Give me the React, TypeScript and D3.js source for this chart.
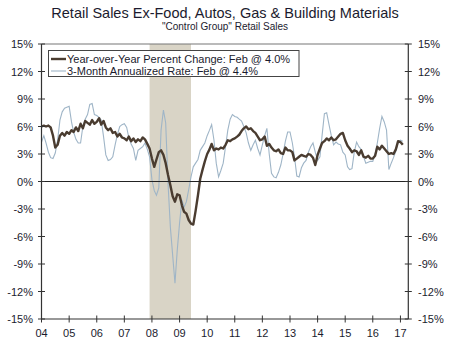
import React from "react";
import * as d3 from "d3";

const title = "Retail Sales Ex-Food, Autos, Gas & Building Materials";
const subtitle = "\"Control Group\" Retail Sales";
const legendYoY = "Year-over-Year Percent Change: Feb @ 4.0%";
const legend3M = "3-Month Annualized Rate: Feb @ 4.4%";

const yTicks = [15, 12, 9, 6, 3, 0, -3, -6, -9, -12, -15];
const xYears = [2004, 2005, 2006, 2007, 2008, 2009, 2010, 2011, 2012, 2013, 2014, 2015, 2016, 2017];

// Monthly, Jan 2004 .. Feb 2017
const yoy = [
  6.0, 6.1, 6.0, 6.1, 5.9, 5.0, 3.7, 4.0, 5.0, 5.3, 5.0, 5.4,
  5.2, 5.6, 5.4, 5.9, 5.5, 6.3, 5.8, 6.6, 6.4, 6.2, 6.7, 6.3,
  6.5, 6.9, 6.2, 6.6, 5.9, 5.6, 5.8, 5.3, 5.4, 4.9, 5.2, 4.8,
  4.7, 4.5, 4.9, 4.4, 4.7, 4.3, 4.6, 4.4, 4.8, 4.6, 4.1, 3.6,
  2.5, 1.6, 2.4, 3.2, 3.4, 2.9, 2.0, 0.7, -0.4, -1.6, -2.2, -1.4,
  -1.5, -2.6, -3.3, -3.5, -4.2, -4.6, -4.7, -3.2, -1.5, 0.3, 1.3, 2.2,
  3.0, 3.5, 4.1, 3.4, 3.6, 3.5, 3.7, 3.6, 4.0, 4.5, 4.4, 4.6,
  4.7, 4.9, 5.1, 5.5, 5.8, 6.0, 5.7, 5.8, 5.5, 5.3, 4.9, 4.5,
  4.6, 4.9, 3.9, 4.1, 3.7, 3.4, 3.3, 3.5, 3.1, 3.0, 3.7, 3.4,
  3.4, 3.2, 2.3, 2.5, 2.7, 2.9, 2.8, 2.7, 3.0, 2.9, 2.6, 1.8,
  2.9, 3.6, 4.2, 4.4, 4.7, 4.5, 4.8, 4.5, 4.6, 4.9, 5.2, 5.3,
  4.5, 3.9, 3.6, 3.2, 3.4, 3.3, 2.9, 3.4, 2.7, 2.6, 2.8, 2.5,
  2.5, 2.8, 3.8, 3.5, 3.9, 3.6, 3.3, 3.0, 3.1, 3.0, 3.5, 4.4,
  4.3, 4.0,
];

const threeMonth = [
  4.3, 5.0, 4.2, 3.2, 2.6, 2.5, 3.1, 4.5, 6.7, 7.6, 8.0, 8.1,
  8.2, 6.5, 5.4, 4.6, 4.2, 4.2, 6.0, 6.8, 7.3, 8.4, 8.5, 7.3,
  7.2, 7.0, 6.7, 4.9, 2.9, 2.3, 2.4, 2.7, 4.0, 5.1, 6.0, 6.2,
  6.3, 5.9, 4.8, 4.1, 3.6, 2.3, 3.4, 3.6, 3.8, 4.2, 3.5, 2.7,
  0.2, -1.0, -1.5, -0.7, 5.6, 7.8, 6.4, -0.2, -5.0, -8.0, -11.1, -7.5,
  -4.5, -2.0, -2.8, -2.2, -0.9, 0.5, 1.6, 2.0, 2.4, 3.4, 3.8, 4.2,
  5.0, 5.6, 6.2, 4.5, 2.0, 0.5, 1.2, 2.0, 3.8, 5.6, 6.8, 7.3,
  7.1, 7.0, 6.8, 6.6, 6.0, 5.3, 4.2, 3.4, 4.0, 4.5, 3.6, 2.9,
  4.0, 5.0, 5.8, 3.0, 0.9, 0.5, 0.4, 1.0, 1.8, 3.0, 4.4, 5.4,
  5.4, 4.2, 2.7, 0.6, 0.5, 1.5, 2.0, 2.3, 3.2, 3.8, 4.2, 3.2,
  2.3, 2.7, 5.0, 7.4, 7.5, 6.2, 5.0, 4.0, 4.3, 4.1, 4.0, 3.2,
  2.9, 1.6, 1.3, 1.4, 3.2, 4.3, 3.8, 3.5, 2.7, 2.0, 2.1, 2.2,
  2.2, 3.0, 4.2, 5.8, 7.1, 6.5, 5.6, 1.3, 2.0, 2.6, 3.3, 4.3,
  4.5, 4.4,
];

const recession = [new Date(2007, 11, 1), new Date(2009, 5, 1)];

const FONT = "'Liberation Sans', Arial, sans-serif";
const TEXT = "#1b1b2e";

export default function App() {
  const W = 450, H = 340;
  const left = 41.5, right = 408.3, top = 44, bottom = 319;
  const x = d3.scaleTime().domain([new Date(2004, 0, 1), new Date(2017, 3, 15)]).range([left, right]);
  const y = d3.scaleLinear().domain([-15, 15]).range([bottom, top]);
  const dateOf = (i: number) => new Date(2004, i, 1);

  const line = d3.line<number>().x((_, i) => x(dateOf(i))).y((d) => y(d)).curve(d3.curveLinear);

  return (
    <svg width={W} height={H} style={{ position: "absolute", left: 0, top: 0, background: "#fff" }} fontFamily={FONT}>
      <rect x={0} y={0} width={W} height={H} fill="#fff" />
      <text x={225} y={18} textAnchor="middle" fontSize={14.5} fill={TEXT}>{title}</text>
      <text x={225} y={30} textAnchor="middle" fontSize={10} fill={TEXT}>{subtitle}</text>

      <rect x={x(recession[0])} y={top} width={x(recession[1]) - x(recession[0])} height={bottom - top} fill="#d9d4c6" />

      <path d={line(threeMonth) || ""} fill="none" stroke="#9fb5c7" strokeWidth={1.1} />
      <path d={line(yoy) || ""} fill="none" stroke="#4a3c30" strokeWidth={2.4} strokeLinejoin="round" />

      <line x1={left} x2={right} y1={y(0)} y2={y(0)} stroke="#222" strokeWidth={1} />
      <line x1={left} x2={right} y1={top} y2={top} stroke="#777" strokeWidth={1.2} />
      <line x1={left} x2={left} y1={top} y2={bottom} stroke="#333" strokeWidth={1.2} />
      <line x1={right} x2={right} y1={top} y2={bottom} stroke="#333" strokeWidth={1.2} />
      <line x1={left} x2={right} y1={bottom} y2={bottom} stroke="#333" strokeWidth={1.2} />

      {yTicks.map((t) => (
        <g key={t}>
          <line x1={left - 3.5} x2={left + 3.5} y1={y(t)} y2={y(t)} stroke="#333" strokeWidth={1} />
          <line x1={right - 3.5} x2={right + 3.5} y1={y(t)} y2={y(t)} stroke="#333" strokeWidth={1} />
          <text x={33} y={y(t) + 4} textAnchor="end" fontSize={11} fill={TEXT}>{`${t}%`}</text>
          <text x={418} y={y(t) + 4} textAnchor="start" fontSize={11} fill={TEXT}>{`${t}%`}</text>
        </g>
      ))}

      {xYears.map((yr) => {
        const px = x(new Date(yr, 0, 1));
        return (
          <g key={yr}>
            <line x1={px} x2={px} y1={bottom - 3.5} y2={bottom + 3.5} stroke="#333" strokeWidth={1} />
            <text x={px} y={337} textAnchor="middle" fontSize={11} fill={TEXT}>{String(yr).slice(2)}</text>
          </g>
        );
      })}

      <rect x={48.5} y={50.5} width={250.5} height={26} fill="#fff" stroke="#444" strokeWidth={1} />
      <line x1={51} x2={66} y1={59} y2={59} stroke="#4a3c30" strokeWidth={2.4} />
      <text x={67} y={63} fontSize={11} fill={TEXT}>{legendYoY}</text>
      <line x1={51} x2={66} y1={71} y2={71} stroke="#9fb5c7" strokeWidth={1.1} />
      <text x={67} y={75} fontSize={11} fill={TEXT}>{legend3M}</text>
    </svg>
  );
}
